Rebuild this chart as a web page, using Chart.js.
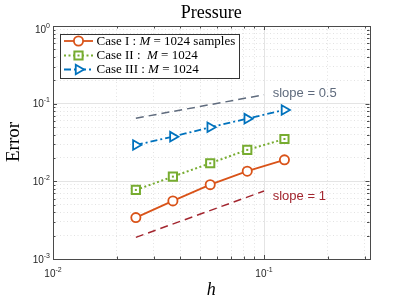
<!DOCTYPE html>
<html>
<head>
<meta charset="utf-8">
<script src="https://cdn.jsdelivr.net/npm/chart.js@4.4.0/dist/chart.umd.min.js"></script>
<style>
  html, body { margin: 0; padding: 0; background: #fff; }
</style>
</head>
<body>
<canvas id="myChart" width="408" height="302"></canvas>
<script>
// mesh sizes and errors
var hValues = [0.0247, 0.037, 0.0556, 0.0833, 0.125];
var caseI = [0.00341, 0.0056, 0.00907, 0.0135, 0.0189];
var caseII = [0.00775, 0.0115, 0.0171, 0.0254, 0.0351];
var caseIII = [0.0294, 0.0376, 0.0497, 0.0641, 0.083];

// reference slopes
var slopeX = [0.0247, 0.1];
var slopeHalf = [0.065, 0.13];
var slopeOne = [0.0019, 0.0075];

// tick labels (powers of ten)
var xTickExps = [-2, -1];
var yTickExps = [0, -1, -2, -3];

var legendLabels = [
  [['Case I : ', 0], ['M', 1], [' = 1024 samples', 0]],
  [['Case II :  ', 0], ['M', 1], [' = 1024', 0]],
  [['Case III : ', 0], ['M', 1], [' = 1024', 0]]
];

var SERIF = '"Liberation Serif", "Times New Roman", serif';
var SANS = '"Liberation Sans", Arial, sans-serif';

function pts(xs, ys) {
  return xs.map(function (x, i) { return { x: x, y: ys[i] }; });
}

function logTicks(min, max) {
  var out = [];
  for (var e = Math.floor(Math.log10(min)); e <= Math.ceil(Math.log10(max)); e++) {
    for (var m = 1; m <= 9; m++) {
      var v = m * Math.pow(10, e);
      if (v >= min * 0.999 && v <= max * 1.001) out.push({ value: v, major: m === 1 });
    }
  }
  return out;
}

function drawPow(ctx, exp, x, y, align) {
  var base = '10', sup = String(exp);
  ctx.font = '10px ' + SANS;
  var w1 = ctx.measureText(base).width;
  ctx.font = '7px ' + SANS;
  var w2 = ctx.measureText(sup).width;
  var sx = align === 'right' ? x - w1 - w2 : x - (w1 + w2) / 2;
  ctx.textAlign = 'left';
  ctx.textBaseline = 'alphabetic';
  ctx.font = '10px ' + SANS;
  ctx.fillText(base, sx, y);
  ctx.font = '7px ' + SANS;
  ctx.fillText(sup, sx + w1, y - 5);
}

function drawRich(ctx, parts, x, y, size) {
  ctx.textAlign = 'left';
  ctx.textBaseline = 'middle';
  parts.forEach(function (p) {
    ctx.font = (p[1] ? 'italic ' : '') + size + 'px ' + SERIF;
    ctx.fillText(p[0], x, y);
    x += ctx.measureText(p[0]).width;
  });
}

function marker(ctx, ds, x, y) {
  ctx.save();
  ctx.setLineDash([]);
  ctx.strokeStyle = ds.borderColor;
  ctx.fillStyle = '#fff';
  ctx.lineWidth = ds.pointBorderWidth;
  Chart.helpers.drawPoint(ctx, {
    pointStyle: ds.pointStyle,
    rotation: ds.pointRotation || 0,
    radius: ds.pointRadius,
    borderWidth: ds.pointBorderWidth
  }, x, y);
  if (ds.pointStyle === 'rect') {
    ctx.fillStyle = ds.borderColor;
    ctx.fillRect(x - 1, y - 1, 2, 2);
  }
  ctx.restore();
}

var decoPlugin = {
  id: 'deco',
  afterDatasetsDraw: function (chart) {
    var ctx = chart.ctx;
    // little centre dot inside the green squares
    var meta = chart.getDatasetMeta(3);
    ctx.save();
    ctx.fillStyle = chart.data.datasets[3].borderColor;
    meta.data.forEach(function (p) { ctx.fillRect(p.x - 1, p.y - 1, 2, 2); });
    ctx.restore();
  },
  afterDraw: function (chart) {
    var ctx = chart.ctx, a = chart.chartArea;
    var xs = chart.scales.x, ys = chart.scales.y;
    ctx.save();

    // box + inward ticks
    ctx.strokeStyle = '#4a4a4a';
    ctx.lineWidth = 1;
    ctx.setLineDash([]);
    ctx.strokeRect(Math.round(a.left) + 0.5, Math.round(a.top) + 0.5,
      Math.round(a.right - a.left), Math.round(a.bottom - a.top));
    ctx.beginPath();
    ys.ticks.forEach(function (t) {
      var py = Math.round(ys.getPixelForValue(t.value)) + 0.5;
      var len = t.major ? 4 : 2.5;
      ctx.moveTo(a.left, py); ctx.lineTo(a.left + len, py);
      ctx.moveTo(a.right, py); ctx.lineTo(a.right - len, py);
    });
    xs.ticks.forEach(function (t) {
      var px = Math.round(xs.getPixelForValue(t.value)) + 0.5;
      var len = t.major ? 4 : 2.5;
      ctx.moveTo(px, a.bottom); ctx.lineTo(px, a.bottom - len);
      ctx.moveTo(px, a.top); ctx.lineTo(px, a.top + len);
    });
    ctx.stroke();

    // tick labels
    ctx.fillStyle = '#262626';
    yTickExps.forEach(function (e) {
      var py = ys.getPixelForValue(Math.pow(10, e));
      drawPow(ctx, e, a.left - 3, py + 3.5 + (e === 0 ? 3.5 : 0), 'right');
    });
    xTickExps.forEach(function (e) {
      var px = xs.getPixelForValue(Math.pow(10, e));
      drawPow(ctx, e, px, a.bottom + 17.5, 'center');
    });

    // title and axis labels
    ctx.fillStyle = '#000';
    ctx.textAlign = 'center';
    ctx.textBaseline = 'alphabetic';
    ctx.font = '18px ' + SERIF;
    ctx.fillText('Pressure', (a.left + a.right) / 2, 18);
    ctx.font = 'italic 18px ' + SERIF;
    ctx.fillText('h', (a.left + a.right) / 2, 295);
    ctx.save();
    ctx.translate(19, 142);
    ctx.rotate(-Math.PI / 2);
    ctx.font = '19px ' + SERIF;
    ctx.fillText('Error', 0, 0);
    ctx.restore();

    // slope annotations
    ctx.textAlign = 'left';
    ctx.textBaseline = 'middle';
    ctx.font = '13px ' + SANS;
    ctx.fillStyle = chart.data.datasets[0].borderColor;
    ctx.fillText('slope = 0.5', xs.getPixelForValue(0.11), ys.getPixelForValue(0.137));
    ctx.fillStyle = chart.data.datasets[1].borderColor;
    ctx.fillText('slope = 1', xs.getPixelForValue(0.11), ys.getPixelForValue(0.0063));

    // legend
    var lx = 60, ly = 34, lw = 179, lh = 44;
    ctx.fillStyle = '#fff';
    ctx.fillRect(lx, ly, lw, lh);
    ctx.strokeStyle = '#333';
    ctx.lineWidth = 1;
    ctx.strokeRect(lx + 0.5, ly + 0.5, lw, lh);
    var rows = [41, 55.5, 69.5];
    [2, 3, 4].forEach(function (di, k) {
      var ds = chart.data.datasets[di];
      var y = rows[k];
      ctx.save();
      ctx.strokeStyle = ds.borderColor;
      ctx.lineWidth = ds.borderWidth;
      ctx.setLineDash(ds.borderDash || []);
      ctx.beginPath();
      ctx.moveTo(64, y); ctx.lineTo(93, y);
      ctx.stroke();
      ctx.restore();
      marker(ctx, ds, 78.5, y);
      ctx.fillStyle = '#000';
      drawRich(ctx, legendLabels[k], 96.5, y + 0.5, 13);
    });
    ctx.restore();
  }
};

function gridColor(c) { return c.tick && c.tick.major ? '#e4e4e4' : '#e2e2e2'; }
function gridDash(c) { return c.tick && c.tick.major ? [] : [1, 2.5]; }

var ctx = document.getElementById('myChart');
var myChart = new Chart(ctx, {
  type: 'scatter',
  data: {
    datasets: [
      {
        label: 'slope = 0.5',
        data: pts(slopeX, slopeHalf),
        showLine: true,
        borderColor: '#5f6b7d',
        borderWidth: 1.5,
        borderDash: [8, 5],
        pointRadius: 0
      },
      {
        label: 'slope = 1',
        data: pts(slopeX, slopeOne),
        showLine: true,
        borderColor: '#a3262f',
        borderWidth: 1.5,
        borderDash: [8, 5],
        pointRadius: 0
      },
      {
        label: 'Case I',
        data: pts(hValues, caseI),
        showLine: true,
        borderColor: '#D95319',
        borderWidth: 1.8,
        pointStyle: 'circle',
        pointRadius: 4.6,
        pointBorderWidth: 1.8,
        pointBackgroundColor: '#fff',
        pointBorderColor: '#D95319'
      },
      {
        label: 'Case II',
        data: pts(hValues, caseII),
        showLine: true,
        borderColor: '#77AC30',
        borderWidth: 2,
        borderDash: [2, 2.5],
        pointStyle: 'rect',
        pointRadius: 5.8,
        pointBorderWidth: 2,
        pointBackgroundColor: '#fff',
        pointBorderColor: '#77AC30'
      },
      {
        label: 'Case III',
        data: pts(hValues, caseIII),
        showLine: true,
        borderColor: '#0072BD',
        borderWidth: 1.8,
        borderDash: [7, 3, 2, 3],
        pointStyle: 'triangle',
        pointRotation: 90,
        pointRadius: 5.5,
        pointBorderWidth: 1.8,
        pointBackgroundColor: '#fff',
        pointBorderColor: '#0072BD'
      }
    ]
  },
  options: {
    responsive: false,
    animation: false,
    events: [],
    layout: { padding: { left: 53, right: 38.5, top: 26, bottom: 43 } },
    scales: {
      x: {
        type: 'logarithmic',
        min: 0.01,
        max: Math.pow(10, -0.5),
        afterBuildTicks: function (s) { s.ticks = logTicks(0.01, Math.pow(10, -0.5)); },
        ticks: { display: false },
        grid: { color: gridColor, lineWidth: 1, drawTicks: false },
        border: { display: false, dash: gridDash }
      },
      y: {
        type: 'logarithmic',
        min: 0.001,
        max: 1,
        afterBuildTicks: function (s) { s.ticks = logTicks(0.001, 1); },
        ticks: { display: false },
        grid: { color: gridColor, lineWidth: 1, drawTicks: false },
        border: { display: false, dash: gridDash }
      }
    },
    plugins: {
      legend: { display: false },
      tooltip: { enabled: false }
    }
  },
  plugins: [decoPlugin]
});
</script>
</body>
</html>
